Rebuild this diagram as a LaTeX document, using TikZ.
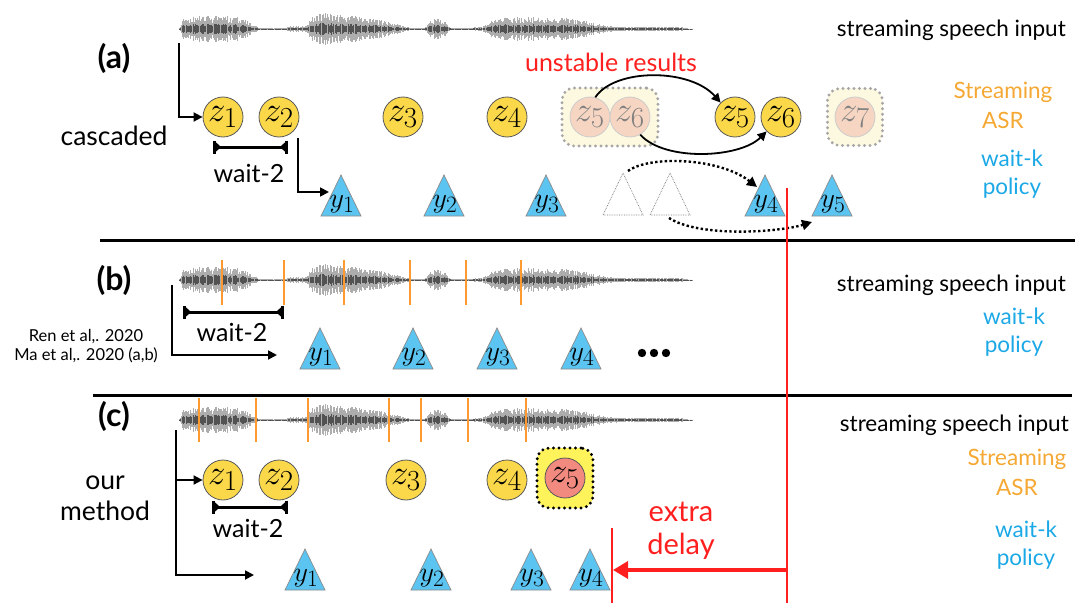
\documentclass[tikz,border=0pt]{standalone}
\usepackage{graphicx}
\usepackage{fontspec}
\setmainfont{Lato}
\usetikzlibrary{arrows.meta}
\definecolor{zyel}{HTML}{FAD84A}
\definecolor{fpeach}{HTML}{F6D5C2}
\definecolor{fboxcol}{HTML}{FDF9E0}
\definecolor{tricol}{HTML}{5CC4F0}
\definecolor{myred}{HTML}{FF1F1F}
\definecolor{myorange}{HTML}{F5A833}
\definecolor{lineorange}{HTML}{FF9A30}
\definecolor{myblue}{HTML}{1BA8E6}
\definecolor{zred}{HTML}{F28A80}
\definecolor{zbox}{HTML}{FFF35C}
\newcommand{\fs}[1]{\fontsize{#1}{#1}\selectfont}
\newcommand{\zl}[1]{\scalebox{1.4}{$#1$}}
\newcommand{\yl}[1]{\scalebox{1.13}{$#1$}}
\tikzset{
  zc/.style={circle,draw=black!65,line width=0.8,fill=zyel,minimum size=40,inner sep=0,font=\fs{24.88}},
  fzc/.style={circle,draw=black!20,line width=0.8,fill=fpeach,minimum size=40,inner sep=0,text=black!50,font=\fs{24.88}},
  fadebox/.style={rectangle,rounded corners=12,fill=fboxcol,draw=black!35,line width=3.2,dash pattern=on 0pt off 5.5pt,line cap=round,inner sep=0},
  redbox/.style={rectangle,rounded corners=12,fill=zbox,draw=black,line width=3.2,dash pattern=on 0pt off 5.5pt,line cap=round,inner sep=0},
  tri/.style={fill=tricol,draw=black!45,line width=0.7,line join=miter},
  ftri/.style={draw=black!55,line width=0.7,densely dotted},
  ylab/.style={inner sep=0,anchor=base,font=\fs{24.88}},
  conn/.style={line width=1.8,-{Triangle[length=9pt,width=9pt]}},
  curv/.style={line width=1.8,-{Triangle[length=9pt,width=9pt]}},
  dotarr/.style={line width=2.4,dash pattern=on 2.4pt off 2.4pt,-{Triangle[length=10pt,width=10pt]}},
  bracket/.style={line width=3,{Bar[width=13pt]Triangle[length=5pt,width=9pt,reversed]}-{Triangle[length=5pt,width=9pt,reversed]Bar[width=13pt]}},
  lbl/.style={inner sep=0,font=\fs{32}\bfseries},
  txt/.style={inner sep=0,font=\fs{26.5}},
  ssi/.style={inner sep=0,anchor=east,font=\fs{22.5}},
  asr/.style={inner sep=0,align=center,text=myorange,font=\fontsize{22.5}{30}\selectfont},
  wk/.style={inner sep=0,align=center,text=myblue,font=\fontsize{22.5}{28}\selectfont},
  wtwo/.style={inner sep=0,font=\fs{25}},
  sep/.style={line width=3,black},
  redl/.style={line width=2.8,myred},
  oline/.style={line width=1.7,lineorange},
  wavout/.style={black!32,line width=0.8},
  wavin/.style={black!68,line width=0.6}
}
\newcommand{\wave}[1]{%
  \pgfmathsetseed{7}%
  \draw[black!25,line width=0.6] (179,#1) -- (692,#1);
  \foreach \xa/\aa/\xb/\ab in {179/0/183/10,183/10/190/13,190/13/230/13,230/13/245/10,245/10/258/2,258/1/285/1,285/1/288/3,288/3/300/3,300/3/307/4,307/4/312/13,312/13/325/16,325/16/345/14,345/14/365/12,365/12/385/8,385/8/400/4,400/4/412/1,412/1/425/1,425/1/430/9,430/9/438/11,438/11/446/7,446/7/452/1,452/1/483/2,483/2/490/8,490/8/505/12,505/12/540/13,540/13/570/11,570/11/590/7,590/7/605/4,605/4/615/2.5,615/2.5/680/2.5,680/2.5/692/0}{%
    \pgfmathsetmacro\xs{\xa+0.7}%
    \foreach \x in {\xa,\xs,...,\xb}{%
      \pgfmathsetmacro\h{(\aa+(\ab-\aa)*(\x-\xa)/(\xb-\xa))*(0.45+0.55*rnd)}%
      \draw[wavout] (\x,#1-\h) -- (\x,#1+\h);
      \draw[wavin] (\x,#1-0.4*\h) -- (\x,#1+0.4*\h);
    }%
  }%
}
\newcommand{\ytri}[4]{%
  \draw[tri] (#2,#3) -- ++(20,41) -- ++(-40,0) -- cycle;
  \node[ylab] (#1) at (#2+1,#3+32) {\yl{#4}};
}
\begin{document}
\begin{tikzpicture}[x=1pt,y=-1pt]
\useasboundingbox (0,0) rectangle (1080,610);
% ---------- (a) ----------
\wave{29}
\node[lbl] (a_lbl) at (114,58) {(a)};
\node[txt] (a_casc) at (114,136) {cascaded};
\node[ssi] (a_ssi) at (1066,30) {streaming speech input};
\node[asr] (a_asr) at (1003,105) {Streaming\\ASR};
\node[wk] (a_wk) at (1012,174) {wait-k\\policy};
\node[inner sep=0,text=myred,font=\fs{25}] (a_unst) at (611,62) {unstable results};
\node[fadebox,minimum width=96,minimum height=58] (a_box1) at (610,117) {};
\node[fadebox,minimum width=55,minimum height=57] (a_box2) at (855,117) {};
\node[zc] (a_z1) at (223,117) {\zl{z_1}};
\node[zc] (a_z2) at (279,117) {\zl{z_2}};
\node[zc] (a_z3) at (403,117) {\zl{z_3}};
\node[zc] (a_z4) at (507,117) {\zl{z_4}};
\node[fzc] (a_fz5) at (590,117) {\zl{z_5}};
\node[fzc] (a_fz6) at (630,117) {\zl{z_6}};
\node[fzc] (a_fz7) at (855,117) {\zl{z_7}};
\node[zc] (a_z5) at (735,117) {\zl{z_5}};
\node[zc] (a_z6) at (781,117) {\zl{z_6}};
\coordinate (a_s) at (179,43);
\draw[conn] (a_s) |- (a_z1);
\draw[bracket] (213,147) coordinate (a_b1) -- (288,147) coordinate (a_b2);
\node[wtwo] (a_w2) at (249,173) {wait-2};
\coordinate (a_w2s) at (298,138);
\coordinate (a_w2e) at (329,192);
\draw[conn] (a_w2s) |- (a_w2e);
\ytri{a_y1}{341}{175}{y_1}
\ytri{a_y2}{444}{175}{y_2}
\ytri{a_y3}{546}{175}{y_3}
\ytri{a_y4}{765}{175}{y_4}
\ytri{a_y5}{832}{175}{y_5}
\draw[ftri] (623,173) coordinate (a_ft1) -- ++(20,42) -- ++(-40,0) -- cycle;
\draw[ftri] (670,173) coordinate (a_ft2) -- ++(20,42) -- ++(-40,0) -- cycle;
\draw[curv] (a_fz5.75) .. controls (615,68) and (690,68) .. (a_z5.135);
\draw[curv] (a_fz6.-60) .. controls (665,162) and (740,158) .. (a_z6.-135);
\coordinate (a_d1s) at (628,171);
\coordinate (a_d1e) at (757,187);
\coordinate (a_d2s) at (669,218);
\coordinate (a_d2e) at (812,222);
\draw[dotarr] (a_d1s) .. controls (650,155) and (720,158) .. (a_d1e);
\draw[dotarr] (a_d2s) .. controls (700,238) and (780,232) .. (a_d2e);
\draw[sep] (100,240) coordinate (sep1a) -- (1075,240) coordinate (sep1b);
% ---------- (b) ----------
\wave{280}
\foreach \x in {222,284,344,410,466,521} \draw[oline] (\x,260) -- (\x,305);
\node[lbl] (b_lbl) at (114,280) {(b)};
\node[ssi] (b_ssi) at (1066,285) {streaming speech input};
\node[wk] (b_wk) at (1014,332) {wait-k\\policy};
\draw[bracket] (183,312) coordinate (b_b1) -- (284,312) coordinate (b_b2);
\node[wtwo] (b_w2) at (232,332) {wait-2};
\node[inner sep=0,align=center,font=\fontsize{16.5}{19}\selectfont] (b_ref) at (86,346) {Ren et al,. 2020\\Ma et al,. 2020 (a,b)};
\coordinate (b_s) at (172,285);
\coordinate (b_e) at (277,355);
\draw[conn] (b_s) |- (b_e);
\ytri{b_y1}{320}{328}{y_1}
\ytri{b_y2}{413}{328}{y_2}
\ytri{b_y3}{497}{328}{y_3}
\ytri{b_y4}{581}{328}{y_4}
\node[inner sep=0] (b_dots) at (654,353) {};
\foreach \dx in {-12,0,12} \fill (654+\dx,353) circle (4.2);
\draw[sep] (93,395) coordinate (sep2a) -- (1072,395) coordinate (sep2b);
% ---------- (c) ----------
\wave{420}
\foreach \x in {199,256,308,389,421,468,526} \draw[oline] (\x,398) -- (\x,442);
\node[lbl] (c_lbl) at (114,416) {(c)};
\node[inner sep=0,align=center,font=\fontsize{26.5}{31}\selectfont] (c_our) at (105,498) {our\\method};
\node[ssi] (c_ssi) at (1069,425) {streaming speech input};
\node[asr] (c_asr) at (1017,472) {Streaming\\ASR};
\node[wk] (c_wk) at (1026,545) {wait-k\\policy};
\node[zc] (c_z1) at (223,480) {\zl{z_1}};
\node[zc] (c_z2) at (279,480) {\zl{z_2}};
\node[zc] (c_z3) at (406,480) {\zl{z_3}};
\node[zc] (c_z4) at (507,480) {\zl{z_4}};
\node[redbox,minimum width=56,minimum height=60] (c_box) at (565,478) {};
\node[zc,fill=zred] (c_z5) at (565,478) {\zl{z_5}};
\coordinate (c_s) at (176,430);
\coordinate (c_br) at (176,480);
\coordinate (c_e) at (254,575);
\draw[conn] (c_s) |- (c_e);
\draw[conn] (c_br) -- (c_z1);
\draw[bracket] (212,507) coordinate (c_b1) -- (288,507) coordinate (c_b2);
\node[wtwo] (c_w2) at (248,528) {wait-2};
\ytri{c_y1}{305}{549}{y_1}
\ytri{c_y2}{431}{549}{y_2}
\ytri{c_y3}{531}{549}{y_3}
\ytri{c_y4}{590}{549}{y_4}
\node[inner sep=0,align=center,text=myred,font=\fontsize{29}{33}\selectfont] (c_extra) at (681,531) {extra\\delay};
% ---------- red delay lines ----------
\coordinate (r_top) at (787,188);
\coordinate (r_bot) at (787,603);
\draw[redl] (r_top) -- (r_bot);
\coordinate (r_stop) at (612,528);
\coordinate (r_sbot) at (612,603);
\draw[redl] (r_stop) -- (r_sbot);
\coordinate (r_as) at (786,570);
\coordinate (r_ae) at (613,570);
\draw[line width=3.4,myred,-{Triangle[length=15pt,width=17pt]}] (r_as) -- (r_ae);
\end{tikzpicture}
\end{document}
